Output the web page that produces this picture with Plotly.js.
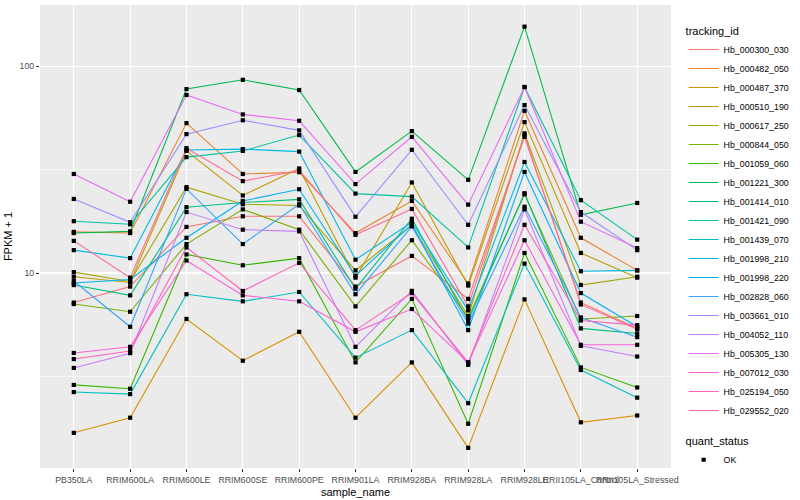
<!DOCTYPE html>
<html>
<head>
<meta charset="utf-8">
<script src="https://cdn.plot.ly/plotly-3.0.1.min.js"></script>
<style>html,body{margin:0;padding:0;background:#fff;} #chart{width:800px;height:500px;}</style>
</head>
<body>
<div id="chart"></div>
<script>
// ---- data (FPKM + 1) ----
const categories = ["PB350LA","RRIM600LA","RRIM600LE","RRIM600SE","RRIM600PE","RRIM901LA","RRIM928BA","RRIM928LA","RRIM928LE","RRII105LA_Control","RRII105LA_Stressed"];

const trackingIds = ["Hb_000300_030","Hb_000482_050","Hb_000487_370","Hb_000510_190","Hb_000617_250","Hb_000844_050","Hb_001059_060","Hb_001221_300","Hb_001414_010","Hb_001421_090","Hb_001439_070","Hb_001998_210","Hb_001998_220","Hb_002828_060","Hb_003661_010","Hb_004052_110","Hb_005305_130","Hb_007012_030","Hb_025194_050","Hb_029552_020"];

const hb_000300_030 = [7.2, 8.6, 16.7, 18.8, 18.8, 8.6, 12.1, 7.5, 45.5, 7.2, 5.4];
const hb_000482_050 = [15.8, 15.6, 53.0, 30.1, 30.7, 15.6, 22.3, 8.9, 60.8, 14.8, 10.3];
const hb_000487_370 = [1.69, 2.0, 6.0, 3.77, 5.2, 2.0, 3.7, 1.43, 7.46, 1.9, 2.05];
const hb_000510_190 = [9.6, 9.0, 38.9, 23.7, 32.0, 9.5, 27.4, 8.7, 53.6, 12.5, 9.5];
const hb_000617_250 = [10.1, 9.1, 26.0, 21.5, 21.2, 10.3, 17.0, 6.2, 47.3, 8.75, 9.6];
const hb_000844_050 = [7.08, 6.5, 13.8, 20.3, 16.2, 6.9, 14.4, 6.1, 24.0, 6.0, 6.2];
const hb_001059_060 = [2.88, 2.76, 12.3, 10.9, 11.8, 3.7, 7.5, 1.87, 12.5, 3.5, 2.8];
const hb_001221_300 = [15.6, 15.9, 77.4, 85.8, 76.6, 30.8, 48.5, 28.2, 155, 19.1, 21.8];
const hb_001414_010 = [8.75, 7.8, 20.8, 21.9, 22.7, 8.4, 18.3, 5.9, 24.3, 5.4, 5.1];
const hb_001421_090 = [17.8, 17.2, 36.3, 38.9, 46.4, 24.2, 23.4, 13.3, 79.2, 22.5, 14.5];
const hb_001439_070 = [2.66, 2.6, 7.9, 7.3, 8.1, 3.9, 5.3, 2.35, 11.1, 3.4, 2.5];
const hb_001998_210 = [12.9, 11.8, 39.3, 39.7, 38.6, 11.6, 17.6, 6.6, 34.4, 10.2, 10.3];
const hb_001998_220 = [8.95, 9.3, 14.8, 22.3, 25.4, 9.7, 17.2, 5.3, 30.8, 8.0, 5.5];
const hb_002828_060 = [9.15, 5.5, 25.5, 13.8, 21.5, 7.9, 16.8, 5.7, 20.9, 6.1, 4.9];
const hb_003661_010 = [22.8, 17.6, 46.9, 54.7, 48.9, 18.7, 39.4, 17.1, 64.8, 19.7, 12.9];
const hb_004052_110 = [3.48, 4.1, 19.7, 16.2, 15.9, 4.4, 8.2, 3.6, 20.3, 4.45, 3.95];
const hb_005305_130 = [30.1, 22.1, 72.5, 58.4, 54.4, 26.9, 45.5, 21.4, 79.2, 17.7, 13.2];
const hb_007012_030 = [4.11, 4.4, 11.5, 7.8, 7.3, 5.2, 6.7, 3.7, 14.4, 4.5, 4.5];
const hb_025194_050 = [3.84, 4.2, 13.3, 8.19, 11.2, 5.3, 8.0, 3.7, 17.1, 5.9, 5.6];
const hb_029552_020 = [14.3, 9.5, 40.1, 27.8, 31.3, 15.3, 20.4, 6.9, 46.4, 7.05, 5.35];

const seriesValues = [hb_000300_030, hb_000482_050, hb_000487_370, hb_000510_190, hb_000617_250, hb_000844_050, hb_001059_060, hb_001221_300, hb_001414_010, hb_001421_090, hb_001439_070, hb_001998_210, hb_001998_220, hb_002828_060, hb_003661_010, hb_004052_110, hb_005305_130, hb_007012_030, hb_025194_050, hb_029552_020];

const quantStatus = "OK";
const yTickVals = [10, 100];
const yTickText = ["10", "100"];

// ggplot2 default hue palette for 20 levels
const colors = ["#F8766D","#EA8331","#D89000","#C09B00","#A3A500","#7CAE00","#39B600","#00BB4E","#00BF7D","#00C1A3","#00BFC4","#00BAE0","#00B0F6","#35A2FF","#9590FF","#C77CFF","#E76BF3","#FA62DB","#FF62BC","#FF6C91"];

const FONT = "Liberation Sans, Arial, Helvetica, sans-serif";

const traces = [];
trackingIds.forEach((id, i) => {
  traces.push({
    type: "scatter", mode: "lines", name: id,
    x: categories, y: seriesValues[i],
    line: {color: colors[i], width: 1.1},
    legend: "legend", hoverinfo: "x+y+name"
  });
});
trackingIds.forEach((id, i) => {
  traces.push({
    type: "scatter", mode: "markers", name: quantStatus,
    x: categories, y: seriesValues[i],
    marker: {color: "#000000", symbol: "square", size: 4.2},
    legend: "legend2", legendgroup: "qs", showlegend: i === 0,
    hoverinfo: "skip"
  });
});

const layout = {
  width: 800, height: 500,
  margin: {l: 40, r: 117, t: 5, b: 32},
  paper_bgcolor: "#FFFFFF",
  plot_bgcolor: "#EBEBEB",
  font: {family: FONT, size: 9, color: "#4D4D4D"},
  showlegend: true,
  xaxis: {
    type: "category", categoryorder: "array", categoryarray: categories,
    range: [-0.6, categories.length - 0.4],
    showgrid: true, gridcolor: "#FFFFFF", gridwidth: 1.1,
    zeroline: false, showline: false,
    ticks: "outside", ticklen: 3, tickcolor: "#333333", tickwidth: 1,
    tickangle: 0, tickfont: {family: FONT, size: 8.8, color: "#4D4D4D"},
    title: {text: "sample_name", font: {family: FONT, size: 11, color: "#000000"}, standoff: 4},
    automargin: false, fixedrange: true
  },
  yaxis: {
    type: "log", range: [0.058, 2.295],
    tickmode: "array", tickvals: yTickVals, ticktext: yTickText,
    showgrid: true, gridcolor: "#FFFFFF", gridwidth: 1.1,
    minor: {tickmode: "array", tickvals: [Math.sqrt(10), Math.sqrt(1000)], showgrid: true, gridcolor: "#FFFFFF", gridwidth: 0.55, ticks: ""},
    zeroline: false, showline: false,
    ticks: "outside", ticklen: 3, tickcolor: "#333333", tickwidth: 1,
    tickfont: {family: FONT, size: 8.8, color: "#4D4D4D"},
    title: {text: "FPKM + 1", font: {family: FONT, size: 11, color: "#000000"}, standoff: 4},
    automargin: false, fixedrange: true
  },
  legend: {
    x: 1.02, xanchor: "left", y: 0.966, yanchor: "top",
    bgcolor: "rgba(0,0,0,0)",
    title: {text: "tracking_id", font: {family: FONT, size: 11, color: "#000000"}},
    font: {family: FONT, size: 8.8, color: "#000000"},
    tracegroupgap: 0, itemwidth: 30
  },
  legend2: {
    x: 1.02, xanchor: "left", y: 0.08, yanchor: "top",
    bgcolor: "rgba(0,0,0,0)",
    title: {text: "quant_status", font: {family: FONT, size: 11, color: "#000000"}},
    font: {family: FONT, size: 8.8, color: "#000000"},
    itemwidth: 30
  }
};

Plotly.newPlot("chart", traces, layout, {displayModeBar: false, staticPlot: true});
</script>
</body>
</html>
